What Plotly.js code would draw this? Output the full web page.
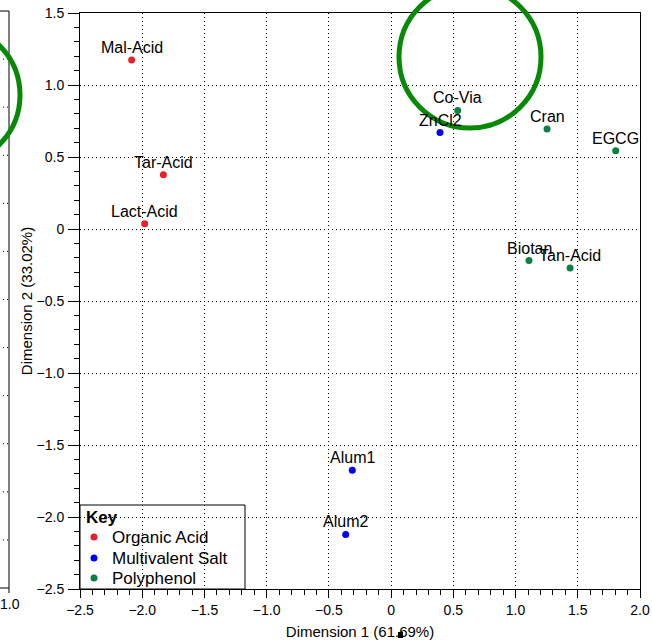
<!DOCTYPE html>
<html>
<head>
<meta charset="utf-8">
<script src="https://cdn.plot.ly/plotly-3.0.1.min.js"></script>
<style>html,body{margin:0;padding:0;background:#fff;}#chart{width:652px;height:640px;}</style>
</head>
<body>
<div id="chart"></div>
<script>
// ---- data ----
const organicNames = ['Mal-Acid', 'Tar-Acid', 'Lact-Acid'];
const organicX = [-2.085, -1.83, -1.98];
const organicY = [1.174, 0.377, 0.037];

const saltNames = ['ZnCl2', 'Alum1', 'Alum2'];
const saltX = [0.393, -0.312, -0.365];
const saltY = [0.670, -1.675, -2.121];

const polyNames = ['Co-Via', 'Cran', 'EGCG', 'Biotan', 'Tan-Acid'];
const polyX = [0.535, 1.253, 1.805, 1.108, 1.438];
const polyY = [0.823, 0.694, 0.543, -0.219, -0.270];

const groupNames = ['Organic Acid', 'Multivalent Salt', 'Polyphenol'];
const legendTitle = 'Key';

const xTickVals = [-2.5, -2.0, -1.5, -1.0, -0.5, 0, 0.5, 1.0, 1.5, 2.0];
const xTickText = ['\u22122.5', '\u22122.0', '\u22121.5', '\u22121.0', '\u22120.5', '0', '0.5', '1.0', '1.5', '2.0'];
const yTickVals = [-2.5, -2.0, -1.5, -1.0, -0.5, 0, 0.5, 1.0, 1.5];
const yTickText = ['\u22122.5', '\u22122.0', '\u22121.5', '\u22121.0', '\u22120.5', '0', '0.5', '1.0', '1.5'];
const xTitle = 'Dimension 1 (61.69%)';
const yTitle = 'Dimension 2 (33.02%)';
const ghostTickText = '1.0';

// ---- layout geometry ----
const W = 652, H = 640;
const M = {l: 80, r: 12, t: 13, b: 51};
const PW = W - M.l - M.r, PH = H - M.t - M.b;
const px = v => (v - M.l) / PW;          // pixel x -> paper
const py = v => (H - M.b - v) / PH;      // pixel y -> paper

const FONT = '"Liberation Sans", Arial, Helvetica, sans-serif';
const colors = ['#e8202a', '#0000ff', '#0b8045'];
const ringColor = '#068a06';

const groups = [
  {name: groupNames[0], x: organicX, y: organicY, labels: organicNames, color: colors[0]},
  {name: groupNames[1], x: saltX, y: saltY, labels: saltNames, color: colors[1]},
  {name: groupNames[2], x: polyX, y: polyY, labels: polyNames, color: colors[2]}
];

const data = groups.map(g => ({
  type: 'scatter', mode: 'markers', name: g.name,
  x: g.x, y: g.y,
  marker: {color: g.color, size: 7},
  cliponaxis: false, hoverinfo: 'skip', showlegend: false
}));

// point labels (annotations anchored to the data points)
const annotations = [];
groups.forEach(g => {
  g.labels.forEach((lab, i) => {
    annotations.push({
      xref: 'x', yref: 'y', x: g.x[i], y: g.y[i], text: lab,
      showarrow: false, xanchor: 'center', yanchor: 'bottom', yshift: 2,
      font: {family: FONT, size: 16, color: '#000'}
    });
  });
});

const axisCommon = {
  showline: true, linecolor: '#000', linewidth: 1, mirror: true,
  ticks: 'outside', tickcolor: '#000', tickwidth: 1,
  tickmode: 'array',
  tickfont: {family: FONT, size: 14, color: '#000'},
  showgrid: true, gridcolor: '#000', gridwidth: 1, griddash: '1px,3px',
  zeroline: false
};

const shapes = [];
// ghost (cropped neighbour panel) edge
const ghostRight = 9, ghostTop = 11, ghostBottom = 588;
shapes.push({type: 'line', xref: 'paper', yref: 'paper', x0: px(ghostRight), x1: px(ghostRight), y0: py(ghostTop), y1: py(ghostBottom), line: {color: '#000', width: 1}});
shapes.push({type: 'line', xref: 'paper', yref: 'paper', x0: px(-2), x1: px(ghostRight), y0: py(ghostTop), y1: py(ghostTop), line: {color: '#000', width: 1}});
shapes.push({type: 'line', xref: 'paper', yref: 'paper', x0: px(-2), x1: px(ghostRight), y0: py(ghostBottom), y1: py(ghostBottom), line: {color: '#000', width: 1}});
const ghostStep = (ghostBottom - ghostTop) / 12;
for (let k = 1; k < 12; k++) {
  const yy = ghostTop + k * ghostStep;
  shapes.push({type: 'line', xref: 'paper', yref: 'paper', x0: px(-1), x1: px(ghostRight - 1), y0: py(yy), y1: py(yy), line: {color: '#000', width: 1, dash: '1px,3px'}});
}
shapes.push({type: 'line', xref: 'paper', yref: 'paper', x0: px(ghostRight), x1: px(ghostRight), y0: py(ghostBottom), y1: py(ghostBottom + 5), line: {color: '#000', width: 1}});
// highlight rings
shapes.push({type: 'circle', xref: 'paper', yref: 'paper', x0: px(399), x1: px(541), y0: py(128), y1: py(-14), line: {color: ringColor, width: 5}});
shapes.push({type: 'circle', xref: 'paper', yref: 'paper', x0: px(-120), x1: px(20), y0: py(165), y1: py(25), line: {color: ringColor, width: 5}});
// small black mark under axis title
shapes.push({type: 'rect', xref: 'paper', yref: 'paper', x0: px(398), x1: px(403), y0: py(638), y1: py(632), fillcolor: '#000', line: {width: 0}});

// key box (legend)
const keyBox = {x0: 80, x1: 245, y0: 505, y1: 589};
shapes.push({type: 'rect', xref: 'paper', yref: 'paper', x0: px(keyBox.x0), x1: px(keyBox.x1), y0: py(keyBox.y1), y1: py(keyBox.y0), line: {color: '#000', width: 1}, fillcolor: 'rgba(0,0,0,0)'});
annotations.push({xref: 'paper', yref: 'paper', x: px(84), y: py(517), text: '<b>' + legendTitle + '</b>', showarrow: false, xanchor: 'left', yanchor: 'middle', font: {family: FONT, size: 17, color: '#000'}});
const keyRows = [537, 558, 578];
groups.forEach((g, i) => {
  const cy = keyRows[i];
  shapes.push({type: 'circle', xref: 'paper', yref: 'paper', x0: px(90.5), x1: px(97.5), y0: py(cy + 3.5), y1: py(cy - 3.5), fillcolor: g.color, line: {width: 0}});
  annotations.push({xref: 'paper', yref: 'paper', x: px(110), y: py(cy), text: g.name, showarrow: false, xanchor: 'left', yanchor: 'middle', font: {family: FONT, size: 17, color: '#000'}});
});

annotations.push({
  xref: 'paper', yref: 'paper', x: px(10), y: py(604), text: ghostTickText,
  showarrow: false, xanchor: 'center', yanchor: 'middle',
  font: {family: FONT, size: 14, color: '#000'}
});

const layout = {
  width: W, height: H,
  margin: M,
  paper_bgcolor: '#fff', plot_bgcolor: '#fff',
  font: {family: FONT, size: 14, color: '#000'},
  xaxis: Object.assign({}, axisCommon, {
    range: [-2.5, 2.0], tickvals: xTickVals, ticktext: xTickText, ticklen: 8,
    minor: {dtick: 0.1, tick0: 0, ticks: 'outside', ticklen: 5, tickcolor: '#000', tickwidth: 1, showgrid: false},
    title: {text: xTitle, font: {family: FONT, size: 15, color: '#000'}, standoff: 9}
  }),
  yaxis: Object.assign({}, axisCommon, {
    range: [-2.5, 1.5], tickvals: yTickVals, ticktext: yTickText, ticklen: 11,
    ticklabelstandoff: 1,
    minor: {dtick: 0.1, tick0: 0, ticks: 'outside', ticklen: 5, tickcolor: '#000', tickwidth: 1, showgrid: false},
    title: {text: yTitle, font: {family: FONT, size: 15, color: '#000'}, standoff: 0}
  }),
  showlegend: false,
  shapes: shapes,
  annotations: annotations
};

Plotly.newPlot('chart', data, layout, {displayModeBar: false, staticPlot: true});
</script>
</body>
</html>
